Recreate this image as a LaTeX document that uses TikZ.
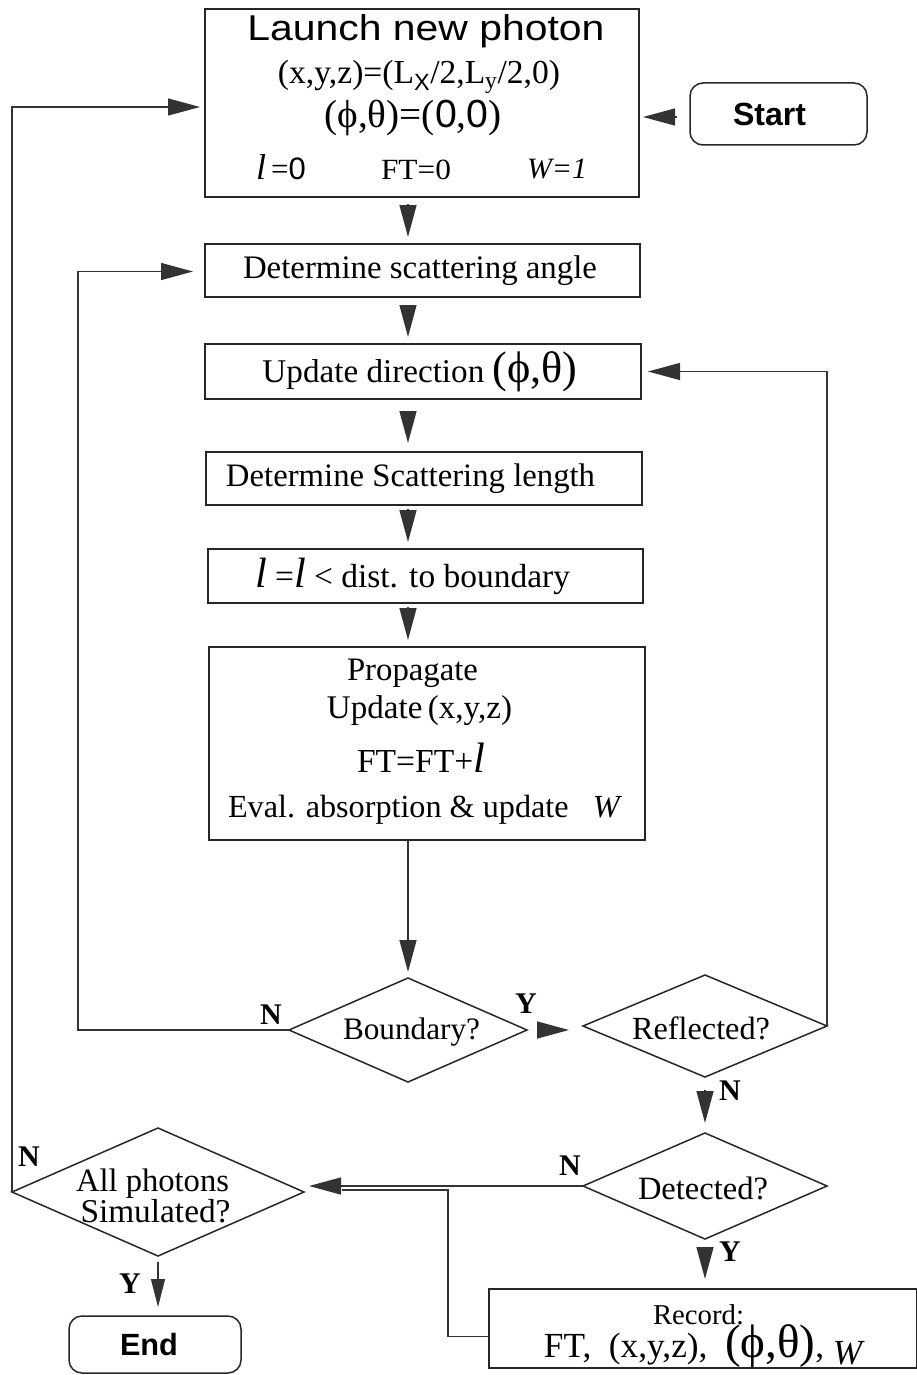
\documentclass[tikz,border=0pt]{standalone}
\usepackage{fontspec}
\setmainfont{Liberation Serif}
\setsansfont{Liberation Sans}
\usetikzlibrary{arrows.meta,shapes.geometric}
\newcommand\fw[2]{\resizebox{#1pt}{!}{#2}}
\newcommand\fwh[3]{\resizebox{#1pt}{#2pt}{#3}}
\begin{document}
\begin{tikzpicture}[x=1pt,y=-1pt,
  every node/.style={inner sep=0pt, outer sep=0pt},
  box/.style={draw=black!85, line width=1.5pt, rectangle},
  rbox/.style={draw=black!85, line width=1.5pt, rectangle, rounded corners=13pt},
  dia/.style={draw=black!85, line width=1.5pt, diamond, aspect=2.3},
  wire/.style={line width=1.4pt, draw=black!80},
  tri/.style={wire, -{Triangle[length=32pt,width=17pt]}},
  lab/.style={font=\fontsize{30}{30}\selectfont\bfseries},
  txt/.style={font=\fontsize{30}{36}\selectfont},
]
\useasboundingbox (0,0) rectangle (917,1375);

% ---------- boxes ----------
\node[box, minimum width=434pt, minimum height=188pt] (launch) at (422,103) {};
\node[font=\sffamily\fontsize{36}{36}\selectfont, anchor=base] (tl1) at (426,41) {\fwh{357}{26}{Launch new photon}};
\node[txt, anchor=base] (tl2) at (419,84) {\fw{282}{(x,y,z)=(L\textsubscript{\sffamily X}/2,L\textsubscript{y}/2,0)}};
\node[txt, anchor=base] (tl3) at (413,128) {\fw{177}{(ϕ,θ)=(\textsf{0},\textsf{0})}};
\node[txt, anchor=base] (tl4) at (281,179) {{\fontsize{36}{36}\selectfont\textit{l}}\hspace{5pt}{\fontsize{31}{31}\selectfont=\textsf{0}}};
\node[txt, anchor=base] (tl5) at (416,179) {\fwh{70}{19.5}{FT=0}};
\node[txt, anchor=base] (tl6) at (557,179) {\fwh{60}{19.5}{\textit{W=1}}};

\node[rbox, minimum width=177pt, minimum height=62pt, font=\sffamily\bfseries\fontsize{30}{30}\selectfont] (start) at (778.5,114) {\raisebox{-3pt}{\fw{73}{Start}}\makebox[18pt]{}};

\node[box, minimum width=435pt, minimum height=53pt, txt] (det1) at (422.5,270.5) {\raisebox{-3pt}{\fw{354}{Determine scattering angle}}\makebox[5pt]{}};
\node[box, minimum width=436pt, minimum height=55pt, txt] (upd) at (423,371.5) {\fw{315}{Update direction\ {\fontsize{40}{40}\selectfont(ϕ,θ)}}\makebox[6pt]{}};
\node[box, minimum width=436pt, minimum height=53pt, txt] (dsl) at (424,478.5) {\raisebox{-5pt}{\fw{369}{Determine Scattering length}}\makebox[27pt]{}};
\node[box, minimum width=435pt, minimum height=54pt, txt] (lbx) at (425.5,576) {\fw{315}{{\fontsize{38}{38}\selectfont\textit{l}} ={\fontsize{38}{38}\selectfont\textit{l}} < dist. to boundary}\makebox[26pt]{}};

\node[box, minimum width=436pt, minimum height=193pt] (prop) at (427,743.5) {};
\node[txt, anchor=base] (tp1) at (412.5,680) {\fw{131}{Propagate}};
\node[txt, anchor=base] (tp2) at (419.5,718) {\fw{185}{Update\,(x,y,z)}};
\node[txt, anchor=base] (tp3) at (421,772) {\fw{128}{FT=FT+{\fontsize{38}{38}\selectfont\textit{l}}}};
\node[txt, anchor=base] (tp4) at (425,817) {\fw{394}{Eval. absorption \& update\ \ \ \textit{W}}};

% ---------- diamonds ----------
\node[dia, minimum width=238pt, minimum height=104pt] (bnd) at (408,1030) {};
\node[txt] (tb) at (411.5,1032) {\fw{137}{Boundary?}};
\node[dia, minimum width=244pt, minimum height=102pt] (refl) at (705,1026) {};
\node[txt] (tr) at (701,1028) {\fw{138}{Reflected?}};
\node[dia, minimum width=244pt, minimum height=106pt] (dtc) at (705,1186) {};
\node[txt] (td) at (703,1188) {\fw{130}{Detected?}};
\node[dia, minimum width=292pt, minimum height=128pt] (allph) at (158,1192) {};
\node[txt, anchor=base] (ta1) at (152.5,1191) {\fw{153}{All photons}};
\node[txt, anchor=base] (ta2) at (155.5,1222) {\fw{150}{Simulated?}};

\node[box, minimum width=428pt, minimum height=79pt] (rec) at (703,1328.5) {};
\node[txt, anchor=base] (tr1) at (698.5,1324) {\fw{91}{Record:}};
\node[txt, anchor=base] (tr2) at (704.5,1357) {\fw{321}{FT,\ \ (x,y,z),\ \ {\fontsize{40}{40}\selectfont(ϕ,θ)},\ \raisebox{-6pt}{\textit{W}}}};

\node[rbox, minimum width=172pt, minimum height=57pt, font=\sffamily\bfseries\fontsize{30}{30}\selectfont] (end) at (155,1344.5) {\fw{58}{End}\makebox[12pt]{}};

% ---------- labels ----------
\node[lab] (lbN) at (271,1015) {N};
\node[lab] (lbY) at (526,1004) {Y};
\node[lab] (lrN) at (730,1091) {N};
\node[lab] (ldN) at (570,1166) {N};
\node[lab] (ldY) at (730,1252) {Y};
\node[lab] (laN) at (29,1157) {N};
\node[lab] (laY) at (130,1284) {Y};

% ---------- connectors ----------
\draw[tri, shorten <=13pt, shorten >=4pt] ([yshift=-3pt]start.west) -- ([yshift=-3pt]start.west -| launch.east);
\draw[tri, shorten >=5pt] (allph.west) |- ([yshift=-4pt]launch.west);
\draw[tri, shorten <=7pt, shorten >=7pt] (launch.south -| bnd.north) -- (det1.north -| bnd.north);
\draw[tri, shorten <=8pt, shorten >=7pt] (det1.south -| bnd.north) -- (upd.north -| bnd.north);
\draw[tri, shorten <=12pt, shorten >=9pt] (upd.south -| bnd.north) -- (dsl.north -| bnd.north);
\draw[tri, shorten <=4pt, shorten >=7pt] (dsl.south -| bnd.north) -- (lbx.north -| bnd.north);
\draw[tri, shorten <=4pt, shorten >=7pt] (lbx.south -| bnd.north) -- (prop.north -| bnd.north);
\draw[tri, shorten >=6pt] (prop.south -| bnd.north) -- (bnd.north);
\draw[tri, shorten >=12pt] (bnd.west) -- ++(-211,0) |- ([yshift=-1pt]det1.west);
\draw[tri, shorten <=10pt, shorten >=14pt] (bnd.east) -- (bnd.east -| refl.west);
\draw[tri, shorten >=7pt] (refl.east) |- (upd.east);
\draw[tri, shorten <=13pt, shorten >=10pt] (refl.south) -- (dtc.north);
\draw[tri, shorten >=5pt] (dtc.west) -- (dtc.west -| allph.east);
\path (dtc.west -| allph.east) ++(0,4) coordinate (dj);
\draw[wire, shorten >=38pt] ([yshift=-8pt]rec.west) -- ++(-41,0) |- (dj);
\draw[tri, shorten <=8pt, shorten >=10pt] (dtc.south) -- (dtc.south |- rec.north);
\draw[wire, -{Triangle[length=28pt,width=14pt]}, shorten <=6pt, shorten >=9pt] (allph.south) -- (allph.south |- end.north);
\end{tikzpicture}
\end{document}
